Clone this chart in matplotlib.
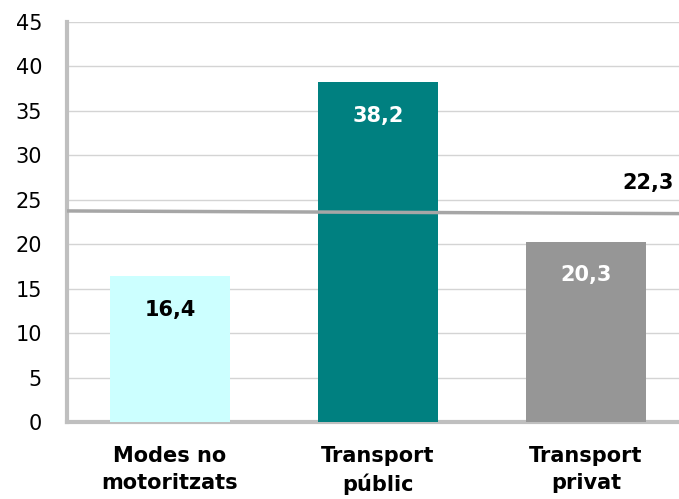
import numpy as np
import matplotlib.pyplot as plt

categories = ["Modes no\nmotoritzats", "Transport\npúblic", "Transport\nprivat"]
values = [16.4, 38.2, 20.3]
value_labels = ["16,4", "38,2", "20,3"]
bar_colors = ["#CCFFFF", "#008080", "#969696"]
label_colors = ["black", "white", "white"]
avg_label = "22,3"
avg_line = [23.75, 23.45]
yticks = [0, 5, 10, 15, 20, 25, 30, 35, 40, 45]

fig = plt.figure(figsize=(6.79, 4.99), dpi=100)
ax = fig.add_axes([0.0987, 0.154, 0.9013, 0.802])

x = np.arange(len(categories))
ax.bar(x, values, width=0.577, color=bar_colors, zorder=3)

for xi, v, lab, c in zip(x, values, value_labels, label_colors):
    ax.annotate(lab, (xi, v), xytext=(0, -24), textcoords="offset points",
                ha="center", va="center", fontsize=15, fontweight="bold",
                color=c, zorder=4)

xlim = (-0.495, 2.447)
ax.plot(xlim, avg_line, color="#A6A6A6", lw=2.5, zorder=5)
ax.text(2.42, 26.9, avg_label, ha="right", va="center", fontsize=15,
        fontweight="bold", color="black")

ax.set_xlim(xlim)
ax.set_ylim(0, 45)
ax.set_yticks(yticks)
ax.set_yticklabels([str(t) for t in yticks], fontsize=15)
ax.set_xticks(x)
ax.set_xticklabels(categories, fontsize=15, fontweight="bold", linespacing=1.45)
ax.tick_params(axis="x", length=0, pad=17)
ax.tick_params(axis="y", length=0, pad=18)
ax.yaxis.grid(True, color="#D4D4D4", lw=1)
ax.set_axisbelow(True)

for s in ["top", "right"]:
    ax.spines[s].set_visible(False)
for s in ["left", "bottom"]:
    ax.spines[s].set_color("#BFBFBF")
    ax.spines[s].set_linewidth(3)

fig.savefig("out.png", dpi=100)
